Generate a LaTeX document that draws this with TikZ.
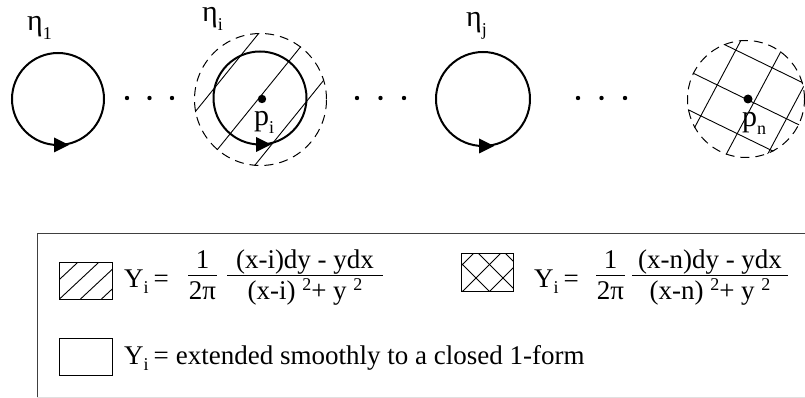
\documentclass[tikz,border=0pt]{standalone}
\usepackage{fontspec}
\setmainfont{Liberation Serif}
\newcommand{\lsub}[2][8pt]{\raisebox{-#1}{\fontsize{18}{18}\selectfont #2}}
\newcommand{\usup}[1]{\raisebox{9pt}{\fontsize{18}{18}\selectfont #1}}
\begin{document}
\begin{tikzpicture}[x=1pt,y=-1pt,
  loop/.style={line width=2pt},
  halo/.style={line width=1pt, dash pattern=on 9pt off 6pt},
  hatch/.style={line width=0.9pt},
  lbl/.style={inner sep=0pt, anchor=base west, font=\fontsize{27}{32}\selectfont},
  tag/.style={inner sep=0pt, anchor=base west, font=\fontsize{30}{34}\selectfont},
  ctr/.style={inner sep=0pt, anchor=base, font=\fontsize{27}{32}\selectfont},
  bar/.style={line width=1pt},
  swatch/.style={line width=0.9pt},
  frame/.style={black!75, line width=0.9pt},
]
\useasboundingbox (0,0) rectangle (805,398);

% ---- loops eta_1, eta_i, eta_j
\draw[loop] (58,99) circle[radius=46pt];
\fill (54,137.5) -- (69,145) -- (54,152.5) -- cycle;
\draw[loop] (260,98) circle[radius=46.5pt];
\fill (256,137) -- (271,144.5) -- (256,152) -- cycle;
\draw[loop] (483,99) circle[radius=47pt];
\fill (479,138.5) -- (494,146) -- (479,153.5) -- cycle;

% ---- hatched neighbourhood of p_i
\draw[halo] (260.5,99.5) circle[radius=66pt];
\begin{scope}[shift={(260.5,99.5)}, rotate=51]
  \clip (0,0) circle[radius=66.5pt];
  \foreach \o in {-43,-2,37} \draw[hatch] (-80,\o) -- (80,\o);
\end{scope}
\fill (262,99) circle[radius=4.2pt];

% ---- cross-hatched neighbourhood of p_n
\draw[halo] (746,99) circle[radius=58.5pt];
\begin{scope}[shift={(746,99)}, rotate=-26]
  \clip (0,0) circle[radius=59pt];
  \foreach \o in {-39.5,0,35} \draw[hatch] (-80,\o) -- (80,\o);
\end{scope}
\begin{scope}[shift={(746,99)}, rotate=62]
  \clip (0,0) circle[radius=59pt];
  \foreach \o in {-32,8.5,45} \draw[hatch] (-80,\o) -- (80,\o);
\end{scope}
\fill (748,99) circle[radius=4.5pt];

% ---- ellipses
\foreach \x in {127,149.5,172, 357,380.5,404, 578,601.5,625}
  \fill (\x,98) circle[radius=2.2pt];

% ---- labels
\node[tag] (eta1) at (27,31) {η\lsub[9pt]{1}};
\node[tag] (etai) at (202,22) {η\lsub[9pt]{i}};
\node[tag] (etaj) at (466,27) {η\lsub[9pt]{j}};
\node[tag] (ppi) at (254,126) {p\lsub[8pt]{i}};
\node[tag] (ppn) at (742,127) {p\lsub[8pt]{n}};

% ---- legend frame
\draw[frame] (37,397) -- (37,233) -- (805,233);
\draw[black!12, line width=0.8pt] (37,397) -- (805,397);

% ---- legend swatches
\draw[swatch] (59,262) rectangle (112,299);
\begin{scope}
  \clip (59,262) rectangle (112,299);
  \foreach \b in {38.5,59.5,80.5,101.5}
    \draw[hatch] (\b,299) -- ++(58.5,-54.6);
\end{scope}
\draw[swatch] (461,253) rectangle (513,291);
\begin{scope}
  \clip (461,253) rectangle (513,291);
  \foreach \b in {428,455,482,509,536}
    \draw[hatch] (\b-30,302) -- (\b+30,242);
  \foreach \b in {443,470,497,524}
    \draw[hatch] (\b-30,242) -- (\b+30,302);
\end{scope}
\draw[swatch] (59,338) rectangle (112,375);

% ---- formula 1
\node[lbl] (y1) at (124,287) {Y\lsub[6pt]{i}\hspace{5pt}=};
\node[ctr] (one1) at (202.5,268) {1};
\node[ctr] (tpi1) at (202.5,299) {2π};
\draw[bar] (188,275) -- (217,275);
\node[ctr] (num1) at (305,268) {(x-i)dy - ydx};
\node[ctr] (den1) at (305,299) {(x-i) \usup{2}+ y \usup{2}};
\draw[bar] (227,275) -- (383,275);

% ---- formula 2
\node[lbl] (y2) at (534,287) {Y\lsub[6pt]{i}\hspace{5pt}=};
\node[ctr] (one2) at (610.5,268) {1};
\node[ctr] (tpi2) at (610.5,299) {2π};
\draw[bar] (596,275) -- (625,275);
\node[ctr] (num2) at (710,268) {(x-n)dy - ydx};
\node[ctr] (den2) at (710,299) {(x-n) \usup{2}+ y \usup{2}};
\draw[bar] (632,275) -- (788,275);

% ---- row 3
\node[lbl] (y3) at (124,364) {Y\lsub[6pt]{i}\hspace{5pt}=\hspace{7pt}extended smoothly to a closed 1-form};
\end{tikzpicture}
\end{document}
